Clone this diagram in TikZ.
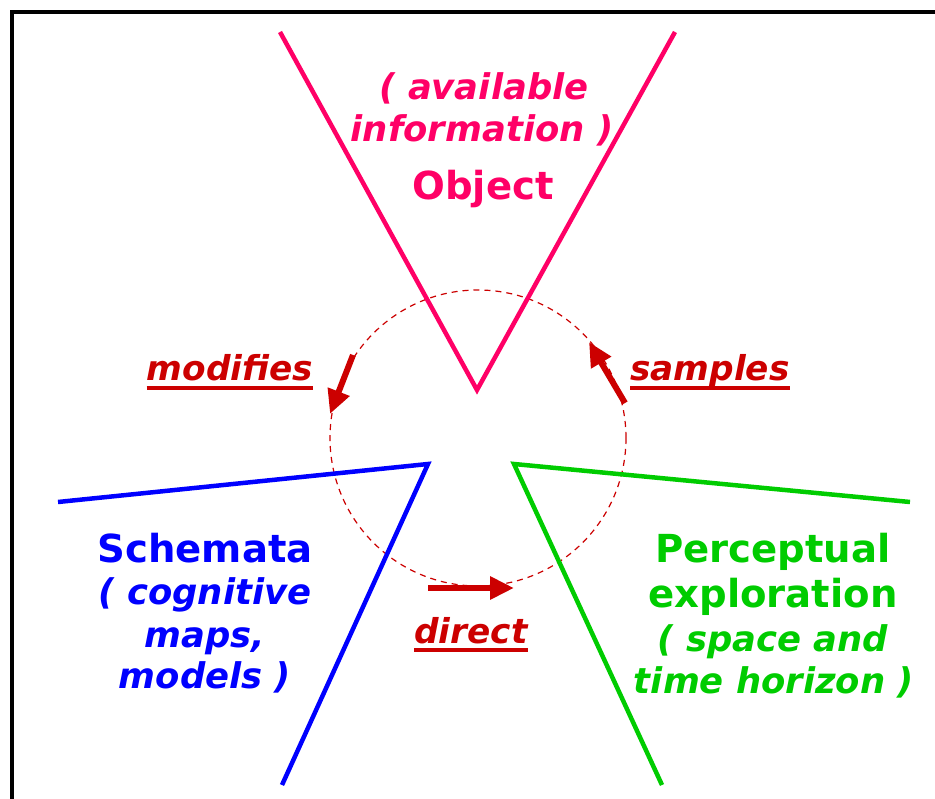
\documentclass[tikz,border=0pt]{standalone}
\usepackage{fontspec}
\setmainfont{DejaVu Sans}
\usetikzlibrary{arrows.meta}
\definecolor{pinkc}{HTML}{FF0066}
\definecolor{bluec}{HTML}{0000FF}
\definecolor{greenc}{HTML}{00CC00}
\definecolor{redc}{HTML}{CC0000}
\tikzset{
  big/.style={font=\fontsize{38.6}{42}\selectfont\bfseries, inner sep=0pt, anchor=base},
  bigit/.style={font=\fontsize{35.4}{42}\selectfont\bfseries\itshape, inner sep=0pt, anchor=base},
  verb/.style={font=\fontsize{34.3}{40}\selectfont\bfseries\itshape, inner sep=0pt, anchor=base, text=redc},
  uline/.style={draw=redc, line width=3.8pt},
  vline/.style={line width=4.5pt, line join=miter},
  flow/.style={line width=6pt, draw=redc, -{Triangle[length=24pt,width=22pt]}}
}
\begin{document}
\begin{tikzpicture}[x=1pt,y=-1pt]
\useasboundingbox (0,0) rectangle (935,799);
\fill[white] (0,0) rectangle (935,799);
\begin{scope}
\clip (0,0) rectangle (935,799);
\draw[line width=4pt] (12,12) rectangle (960,830);
\end{scope}
% dashed circle
\draw[redc, line width=1.2pt, dash pattern=on 6pt off 5pt] (478,438) circle (148);
% V shapes
\coordinate (o1) at (280,32); \coordinate (o2) at (477,390); \coordinate (o3) at (675,32);
\draw[vline, pinkc] (o1) -- (o2) -- (o3);
\coordinate (s1) at (58,502); \coordinate (s2) at (428,464); \coordinate (s3) at (282,785);
\draw[vline, bluec] (s1) -- (s2) -- (s3);
\coordinate (p1) at (910,502); \coordinate (p2) at (514,464); \coordinate (p3) at (662,785);
\draw[vline, greenc] (p1) -- (p2) -- (p3);
% arrows
\coordinate (ma) at (353,355); \coordinate (mb) at (330,414);
\draw[flow] (ma) -- (mb);
\coordinate (sa) at (625,403); \coordinate (sb) at (589,342);
\draw[flow] (sa) -- (sb);
\coordinate (da) at (428,588); \coordinate (db) at (514,588);
\draw[flow] (da) -- (db);
% Object texts
\node[bigit, text=pinkc] (obj1) at (484,100) {( available};
\node[bigit, text=pinkc] (obj2) at (482,142) {information )};
\node[big, text=pinkc] (obj3) at (483,200) {Object};
% Schemata
\node[big, text=bluec] (sch1) at (205,562) {Schemata};
\node[bigit, text=bluec] (sch2) at (205,604) {( cognitive};
\node[bigit, text=bluec] (sch3) at (205,647) {maps,};
\node[bigit, text=bluec] (sch4) at (205,688) {models )};
% Perceptual
\node[big, text=greenc] (per1) at (773,562) {Perceptual};
\node[big, text=greenc] (per2) at (773,607) {exploration};
\node[bigit, text=greenc] (per3) at (773,651) {( space and};
\node[bigit, text=greenc] (per4) at (774,693) {time horizon )};
% verbs
\node[verb] (mod) at (230,381) {modifies};
\node[verb] (sam) at (710,381) {samples};
\node[verb] (dir) at (471,643) {direct};
\draw[uline] ([yshift=-7pt]mod.base west) -- ([yshift=-7pt]mod.base east);
\draw[uline] ([yshift=-7pt]sam.base west) -- ([yshift=-7pt]sam.base east);
\draw[uline] ([yshift=-7pt]dir.base west) -- ([yshift=-7pt]dir.base east);
\end{tikzpicture}
\end{document}
